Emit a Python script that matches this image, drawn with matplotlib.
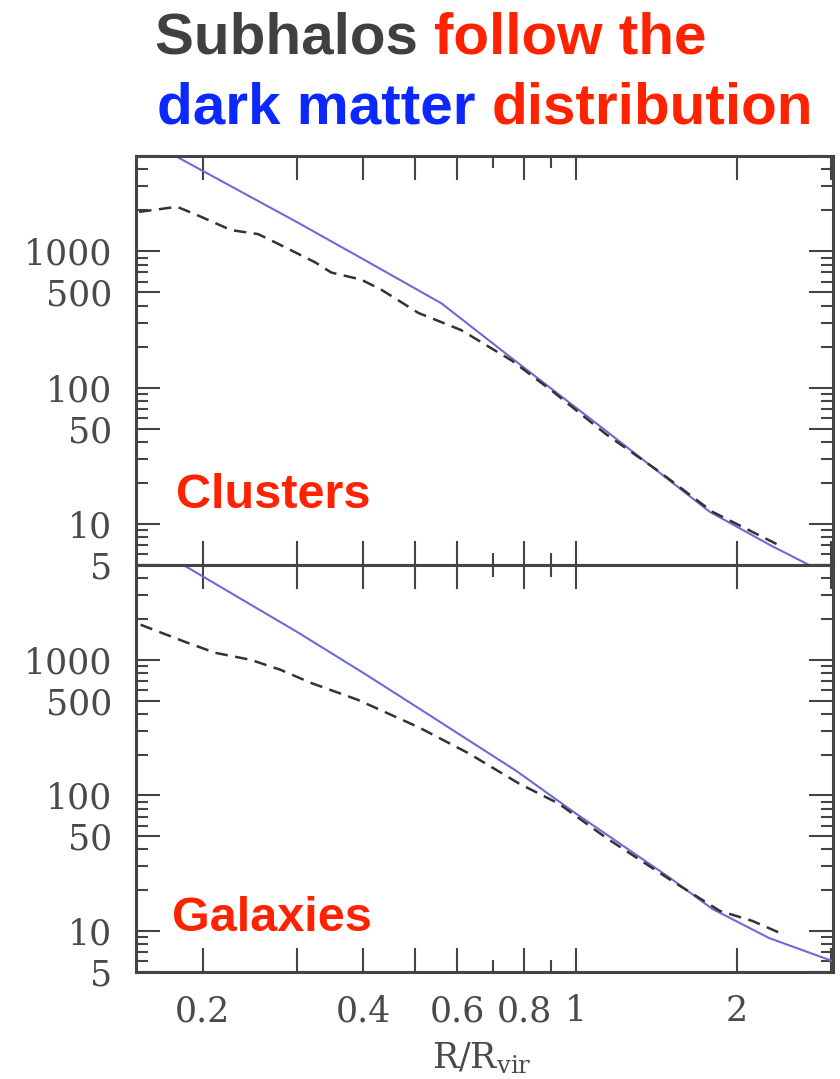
"""Subhalo vs dark matter radial profiles, clusters and galaxies."""
import matplotlib

matplotlib.use("Agg")
import matplotlib.pyplot as plt  # noqa: E402
from matplotlib.ticker import FixedLocator, FixedFormatter, NullFormatter  # noqa: E402

plt.rcParams.update({"mathtext.fontset": "dejavuserif"})

# values (R/R_vir, density)
clu_dm_x = [0.17, 0.30, 0.40, 0.56, 0.75, 1.14, 1.45, 1.78, 2.31, 2.85]
clu_dm_y = [5500, 1640, 873, 415, 170, 48, 23, 12.3, 7.0, 4.6]
clu_sub_x = [0.152, 0.179, 0.195, 0.226, 0.254, 0.273, 0.325, 0.348, 0.396,
             0.432, 0.507, 0.610, 0.758, 0.901, 1.138, 1.43, 1.80, 2.38]
clu_sub_y = [1945, 2120, 1848, 1431, 1337, 1166, 829, 699, 620,
             523, 353, 264, 158, 95, 45.6, 24.3, 12.3, 7.1]

gal_dm_x = [0.178, 0.30, 0.40, 0.507, 0.771, 1.0, 1.50, 1.80, 2.30, 3.03]
gal_dm_y = [5400, 1611, 800, 441, 153, 73.6, 24.7, 14.6, 8.9, 6.0]
gal_sub_x = [0.153, 0.185, 0.211, 0.246, 0.280, 0.319, 0.391, 0.507, 0.629,
             0.781, 0.929, 1.138, 1.515, 1.86, 2.14, 2.44]
gal_sub_y = [1815, 1360, 1127, 1000, 843, 676, 506, 319, 205,
             123, 87, 48.9, 23.4, 14.1, 11.9, 9.5]

x_major = [0.2, 0.3, 0.4, 0.5, 0.6, 0.8, 1, 2, 3]
x_labels = ["0.2", "", "0.4", "", "0.6", "0.8", "1", "2", ""]
x_minor = [0.7, 0.9]
y_major = [5, 10, 50, 100, 500, 1000, 5000]
y_labels = ["5", "10", "50", "100", "500", "1000", ""]
y_minor = [6, 7, 8, 9, 20, 30, 40, 60, 70, 80, 90, 200, 300, 400,
           600, 700, 800, 900, 2000, 3000, 4000]

W, H = 840, 1079
FRAME = "#444444"
TXT = "#4a4a4a"
RED = "#ff2200"
BLUE = "#0a28ff"
DM_COLOR = "#6b6bd8"

fig = plt.figure(figsize=(W / 100, H / 100), dpi=100)
fig.patch.set_facecolor("white")


def px(x, y):
    return x / W, 1 - y / H


ax_top = fig.add_axes([136 / W, 1 - 565 / H, 697 / W, 409 / H])
ax_bot = fig.add_axes([136 / W, 1 - 972 / H, 697 / W, 407 / H])

panels = [
    (ax_top, clu_dm_x, clu_dm_y, clu_sub_x, clu_sub_y),
    (ax_bot, gal_dm_x, gal_dm_y, gal_sub_x, gal_sub_y),
]
for ax, dx, dy, sx, sy in panels:
    ax.plot(dx, dy, color=DM_COLOR, lw=1.5, solid_capstyle="butt")
    ax.plot(sx, sy, color="#333333", lw=1.8, dashes=(5, 3))
    ax.set_xscale("log")
    ax.set_yscale("log")
    ax.set_xlim(0.15, 3.03)
    ax.set_ylim(5, 5000)
    ax.xaxis.set_major_locator(FixedLocator(x_major))
    ax.xaxis.set_major_formatter(FixedFormatter(x_labels))
    ax.xaxis.set_minor_locator(FixedLocator(x_minor))
    ax.xaxis.set_minor_formatter(NullFormatter())
    ax.yaxis.set_major_locator(FixedLocator(y_major))
    ax.yaxis.set_major_formatter(FixedFormatter(y_labels))
    ax.yaxis.set_minor_locator(FixedLocator(y_minor))
    ax.yaxis.set_minor_formatter(NullFormatter())
    ax.tick_params(which="both", direction="in", top=True, right=True,
                   color=FRAME, width=1.5)
    ax.tick_params(which="major", length=17)
    ax.tick_params(which="minor", length=8.5)
    ax.tick_params(axis="y", which="major", pad=17, labelsize=25,
                   labelcolor=TXT)
    ax.tick_params(axis="x", which="major", pad=16, labelsize=25,
                   labelcolor=TXT)
    for lab in ax.get_xticklabels() + ax.get_yticklabels():
        lab.set_family("DejaVu Serif")
    for sp in ax.spines.values():
        sp.set_color(FRAME)
        sp.set_linewidth(2.2)

ax_top.tick_params(axis="x", labelbottom=False)

# panel names
fig.text(*px(176, 508), "Clusters", color=RED, fontsize=35,
         fontweight="bold", family="Liberation Sans", va="baseline")
fig.text(*px(172, 931), "Galaxies", color=RED, fontsize=35,
         fontweight="bold", family="Liberation Sans", va="baseline")

# axis label (partly cut off at the bottom edge, like the source)
fig.text(*px(432, 1068), r"$\mathrm{R/R_{vir}}$", color=TXT, fontsize=25,
         va="baseline")

# two-colour heading, words placed one after another
renderer = fig.canvas.get_renderer()


def heading(parts, x0, y0):
    x = x0 / W
    for word, col in parts:
        t = fig.text(x, 1 - y0 / H, word, color=col, fontsize=42,
                     fontweight="bold", family="Liberation Sans",
                     va="baseline")
        bb = t.get_window_extent(renderer=renderer)
        x = bb.x1 / W


heading([("Subhalos ", "#404040"), ("follow the", RED)], 155, 54)
heading([("dark matter ", BLUE), ("distribution", RED)], 157, 124)

fig.savefig("out.png", dpi=100)
